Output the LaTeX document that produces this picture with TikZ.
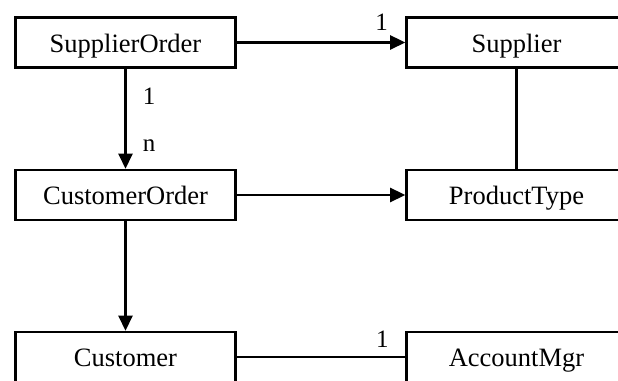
\documentclass[tikz,border=0pt]{standalone}
\usepackage{fontspec}
\setmainfont{Liberation Serif}
\usepackage{tikz}
\usetikzlibrary{positioning,arrows.meta}
\tikzset{
    entity/.style={rectangle, draw, line width=2.6pt, minimum width=220pt, minimum height=50pt, inner sep=0pt, text height=24pt, text depth=4pt, font=\fontsize{26.5}{30}\selectfont},
    link/.style={line width=2.6pt},
    link arrow/.style={link, -{Triangle[length=15pt,width=14pt]}},
    mult/.style={font=\fontsize{25}{28}\selectfont, inner sep=0pt}
}

\begin{document}
\begin{tikzpicture}[x=1pt, y=1pt]
    \useasboundingbox (0,0) rectangle (618,380);
    \clip (0,0) rectangle (618,380);

    % Left column
    \node[entity] (sorder) at (125.5,337.5) {SupplierOrder};
    \node[entity] (corder) at (125.5,185) {CustomerOrder};
    \node[entity] (customer) at (125.5,23) {Customer};

    % Right column
    \node[entity] (supplier) at (516.5,337.5) {Supplier};
    \node[entity] (ptype) at (516.5,185) {ProductType};
    \node[entity] (accmgr) at (516.5,23) {AccountMgr};

    % Associations
    \draw[link arrow] (sorder) -- (supplier)
        node[mult, pos=0.86, anchor=base, yshift=12pt] {1};
    \draw[link arrow] (sorder) -- (corder)
        node[mult, pos=0.36, anchor=base west, xshift=16pt] {1}
        node[mult, pos=0.83, anchor=base west, xshift=16pt] {n};
    \draw[link arrow] (corder) -- (ptype);
    \draw[link] (supplier) -- (ptype);
    \draw[link arrow] (corder) -- (customer);
    \draw[link] (customer) -- (accmgr)
        node[mult, pos=0.865, anchor=base, yshift=10pt] {1};
\end{tikzpicture}
\end{document}
